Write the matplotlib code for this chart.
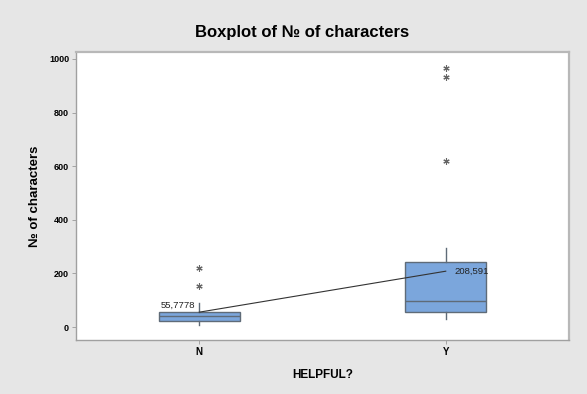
import matplotlib
matplotlib.use("Agg")
import matplotlib.pyplot as plt

plt.rcParams['font.family'] = ['Liberation Sans', 'DejaVu Sans']

categories = ["N", "Y"]
q1 = [22, 56]
medians = [41, 97]
q3 = [56, 243]
whisker_lo = [8, 31]
whisker_hi = [90, 295]
outliers = [[153, 220], [619, 933, 965]]
means = [55.7778, 208.591]
mean_labels = ["55,7778", "208,591"]
yticks = [0, 200, 400, 600, 800, 1000]

fig = plt.figure(figsize=(5.87, 3.94), dpi=100, facecolor="#e6e6e6")
ax = fig.add_axes([76/587, 54/394, (569-76)/587, (340-52)/394])
ax.set_facecolor("white")

positions = [1, 2]
stats = []
for i, c in enumerate(categories):
    stats.append(dict(label=c, q1=q1[i], med=medians[i], q3=q3[i],
                      whislo=whisker_lo[i], whishi=whisker_hi[i],
                      fliers=outliers[i], mean=means[i]))

edge = "#5f6b78"
ax.bxp(stats, positions=positions, widths=0.33, patch_artist=True,
       showcaps=False, showmeans=False,
       boxprops=dict(facecolor="#7ba6dc", edgecolor=edge, linewidth=1.0),
       medianprops=dict(color=edge, linewidth=1.0),
       whiskerprops=dict(color=edge, linewidth=1.0),
       flierprops=dict(marker=(6, 2, 0), markersize=4.5, markeredgecolor="#666666",
                       markeredgewidth=0.8, linestyle="none"),
       zorder=2)

# connect the group means
ax.plot(positions, means, color="#333333", linewidth=0.8, zorder=3)
ax.text(positions[0] - 0.015, means[0] + 26, mean_labels[0], ha="right", va="center",
        fontsize=6.8, color="#222222")
ax.text(positions[1] + 0.035, means[1], mean_labels[1], ha="left", va="center",
        fontsize=6.8, color="#222222")

ax.set_xlim(0.5, 2.5)
ax.set_ylim(-48, 1026)
ax.set_xticks(positions)
ax.set_xticklabels(categories, fontsize=7, fontweight="bold")
ax.set_yticks(yticks)
ax.set_yticklabels([str(v) for v in yticks], fontsize=6.5, fontweight="bold")
ax.tick_params(axis="both", direction="out", length=3, width=0.6, color="#999999", pad=2)

for side in ["left", "bottom"]:
    ax.spines[side].set_color("#a0a0a0")
    ax.spines[side].set_linewidth(1.0)
for side in ["top", "right"]:
    ax.spines[side].set_color("#b8b8b8")
    ax.spines[side].set_linewidth(1.6)

ax.set_xlabel("HELPFUL?", fontsize=8.5, fontweight="bold", labelpad=9)
ax.set_ylabel("№ of characters", fontsize=9.5, fontweight="bold", labelpad=6)
fig.text(302/587, 1 - 32/394, "Boxplot of № of characters", ha="center", va="center",
         fontsize=12, fontweight="bold")

fig.savefig("out.png", dpi=100, facecolor=fig.get_facecolor())
